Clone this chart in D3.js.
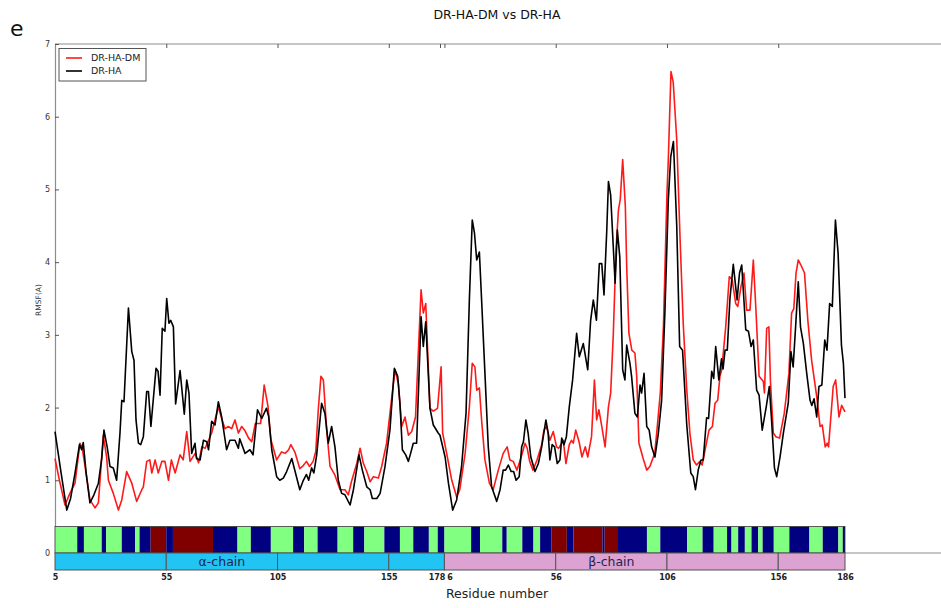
<!DOCTYPE html>
<html>
<head>
<meta charset="utf-8">
<script src="https://cdn.jsdelivr.net/npm/d3@7"></script>
<style>
  html, body { margin: 0; padding: 0; background: #fff; }
  svg { display: block; }
  text { font-family: "DejaVu Sans", sans-serif; }
</style>
</head>
<body>
<svg id="chart" width="941" height="608"></svg>
<script>
// ---------------- DATA ----------------
// position = sequential residue index along alpha (5..178) then beta (6..186) chains
const tickPos    = [0, 50, 100, 150, 173, 175, 225, 275, 325, 355];
const tickLabels = ["5", "55", "105", "155", "178", "6", "56", "106", "156", "186"];
const yTicks     = [0, 1, 2, 3, 4, 5, 6, 7];

const seriesNames  = ["DR-HA-DM", "DR-HA"];
const seriesColors = ["#ff1a1a", "#000000"];

// DR-HA-DM RMSF [position, value]
const rmsfDM = [
  [0,1.3],[2,1.0],[4.5,0.66],[6.7,0.82],[9,0.96],[11.2,1.51],[12.2,1.45],[13.5,1.19],[15.7,0.73],[18,0.62],
  [19.5,0.69],[21.7,1.62],[23.2,1.32],[24,1.0],[26.2,0.82],[28.5,0.59],[30,0.73],[32.2,1.12],[34.5,0.96],[36.7,0.71],
  [39,0.87],[39.7,0.91],[41.2,1.26],[42.6,1.28],[43.5,1.1],[45,1.28],[46.4,1.1],[48,1.26],[49.4,1.26],[51,1.0],
  [52.3,1.28],[54,1.1],[56.2,1.35],[57.6,1.28],[59.2,1.67],[60.7,1.26],[63,1.37],[64.5,1.24],[66,1.46],[67.5,1.44],
  [69,1.55],[70.4,1.65],[71.9,1.83],[73.4,2.01],[74.9,1.85],[76.4,1.71],[77.9,1.74],[79.4,1.71],[80.9,1.83],[82.4,1.65],
  [83.9,1.74],[85.4,1.68],[87,1.58],[88.4,1.53],[90,1.78],[92.4,1.78],[94,2.31],[95.7,2.02],[97,1.56],[99.6,1.28],
  [101.8,1.39],[103.4,1.37],[105,1.42],[106,1.49],[107.9,1.38],[110,1.16],[111.2,1.19],[113,1.26],[114.4,1.19],[116,1.26],
  [117.2,1.4],[118.3,1.97],[119.5,2.43],[120.6,2.38],[122.1,1.69],[123.6,1.19],[125.8,1.07],[128.1,0.87],[130.3,0.87],[131.8,0.8],
  [133.2,0.98],[135.6,1.23],[137.1,1.44],[138.6,1.23],[140.1,1.12],[141.6,0.98],[143.1,1.05],[145.3,1.03],[146.8,1.19],[149,1.51],
  [151.3,2.13],[152.8,2.52],[154.3,2.33],[155.8,1.74],[157.3,1.87],[158.8,1.62],[160.3,1.67],[162,1.87],[164.5,3.62],[165.5,3.3],
  [166.6,3.43],[168.5,1.99],[170,1.95],[171.9,1.99],[173.5,2.56],[174.2,1.65],[176,1.37],[178.3,1.0],[180.5,0.77],[181.9,0.87],
  [184.3,1.37],[186.2,2.01],[187.5,2.61],[188.7,2.56],[189.5,2.24],[190.7,2.27],[191.7,1.83],[193.2,1.28],[195.2,0.96],[196.9,0.87],
  [199.2,1.14],[201.4,1.37],[203.2,1.46],[204.4,1.28],[205.9,1.26],[207.6,1.14],[209.5,1.32],[211.2,1.51],[212.2,1.44],[213.3,1.26],
  [214.8,1.14],[216.6,1.28],[218.7,1.49],[219.7,1.69],[220.9,1.74],[222.4,1.55],[223.9,1.67],[225.4,1.46],[226.3,1.44],[228.4,1.55],
  [229.6,1.23],[231.1,1.49],[232.1,1.55],[232.9,1.51],[234,1.69],[235.5,1.53],[236.8,1.32],[238.3,1.46],[239.4,1.32],[241.1,1.6],
  [242.4,2.38],[243.4,1.83],[244.4,1.97],[245.7,1.74],[247.2,1.46],[248.7,2.01],[249.7,2.2],[250.9,3.02],[252.1,4.17],[253.2,4.72],
  [254,4.86],[255.1,5.41],[256.3,4.76],[256.9,3.94],[257.9,3.02],[259.2,2.79],[260.6,2.75],[261.4,2.43],[262.4,1.51],[264.3,1.3],
  [265.9,1.14],[267.3,1.19],[269.5,1.37],[270.5,1.69],[272,2.2],[273.4,3.11],[275,4.95],[275.6,5.41],[276.8,6.62],[277.8,6.48],
  [279.4,5.68],[280.9,4.31],[282.3,3.16],[283.9,2.24],[285.3,1.65],[286.8,1.28],[288.3,1.21],[289.8,1.26],[290.8,1.21],[292.4,1.46],
  [293.9,1.69],[295.4,1.74],[296.6,2.06],[297.8,2.1],[298.8,2.43],[299.6,2.52],[301.4,3.11],[303,3.8],[304.3,3.76],[305.9,3.43],
  [306.8,3.39],[308.3,3.67],[309.6,3.85],[310.8,3.34],[312.3,3.34],[313.8,4.03],[314.9,3.39],[316.4,2.43],[318.3,2.36],[318.8,2.2],
  [319.8,3.09],[320.8,3.11],[321.5,2.36],[322.8,1.65],[323.9,1.6],[325.6,1.58],[327.7,1.92],[329.8,2.47],[331,3.3],[332,3.36],
  [333,3.85],[334,4.03],[335.5,3.94],[336.8,3.85],[338.3,3.2],[340,2.65],[342.3,2.15],[343.8,1.74],[344.8,1.76],[346.1,1.46],
  [347,1.51],[347.6,1.46],[349.7,2.29],[350.8,2.38],[352.3,1.87],[353.5,2.03],[355,1.94]
];

// DR-HA RMSF [position, value]
const rmsfHA = [
  [0,1.67],[2.5,1.15],[5.3,0.59],[7,0.75],[9,1.1],[11,1.49],[12,1.42],[12.7,1.52],[14,1.1],[15.7,0.69],
  [17.5,0.8],[19.5,0.96],[21,1.3],[22,1.69],[23.5,1.45],[24.7,1.19],[26.2,1.17],[27.7,1.0],[29.2,1.65],[30,2.1],
  [31,2.08],[33,3.37],[34.5,2.77],[35.5,2.65],[36.4,1.83],[37.5,1.51],[38.5,1.49],[39.7,1.6],[41.2,2.22],[42,2.22],
  [43.1,1.74],[45.4,2.54],[46.3,2.5],[47.2,2.17],[48.2,3.09],[49.4,3.05],[50.2,3.5],[51.2,3.16],[52,3.2],[53.2,3.11],
  [54.2,2.05],[56.2,2.51],[58.1,1.91],[59.2,2.38],[60.2,2.2],[61.4,1.37],[62.9,1.51],[63.6,1.3],[65.2,1.28],[66.7,1.55],
  [68.2,1.53],[69,1.42],[70.4,1.81],[71.9,1.76],[73.4,2.08],[74.9,1.87],[77.1,1.42],[78.6,1.55],[80.9,1.55],[82.4,1.44],
  [83,1.57],[85.4,1.37],[87.6,1.42],[89,1.35],[91,1.97],[92.9,1.85],[95,1.99],[96,1.88],[97.4,1.42],[99.6,1.05],
  [101,1.0],[102.6,1.03],[104.1,1.12],[106.4,1.3],[107.9,1.12],[110,0.87],[111.6,1.0],[113,1.08],[114,1.0],[115.3,1.17],
  [116.3,1.1],[117.6,1.35],[119.8,2.06],[121.3,1.92],[122.8,1.51],[124.3,1.74],[125.8,1.46],[127.3,1.0],[128.8,0.82],[130.3,0.8],
  [132.6,0.66],[134.1,0.87],[136.6,1.35],[138.1,1.14],[140.1,0.91],[141.6,0.87],[142.6,0.75],[144.6,0.75],[146.1,0.82],[148.3,1.19],
  [150.5,1.69],[152.5,2.54],[154,2.43],[155,2.06],[156.1,1.42],[157.6,1.35],[158.8,1.26],[159.8,1.37],[161,1.51],[162.5,1.51],
  [164.5,3.25],[165.5,2.84],[166.6,3.18],[168.5,1.99],[170,1.76],[172.2,1.65],[173,1.62],[175.3,1.32],[176.8,0.96],[178.7,0.59],
  [180.5,0.73],[182.7,1.19],[184.7,1.92],[186.2,3.48],[187.5,4.58],[188.5,4.4],[189.5,4.03],[190.7,4.14],[191.7,3.48],[193.2,2.47],
  [194.7,1.46],[196.2,0.91],[198.5,0.71],[200,0.87],[201.4,1.14],[202.5,1.14],[203.7,1.21],[205,1.12],[206.1,1.12],[207.2,1.0],
  [208.6,1.05],[209.7,1.46],[210.5,1.53],[211.6,1.83],[212.6,1.65],[213.8,1.32],[215.7,1.12],[217.2,1.23],[218.7,1.46],[220.6,1.83],
  [221.6,1.65],[222.4,1.28],[223.4,1.49],[224.5,1.46],[225.7,1.23],[226.9,1.28],[227.7,1.58],[228.7,1.49],[229.8,1.6],[231.1,2.01],
  [232.6,2.38],[234.4,3.02],[235.6,2.7],[237.4,2.88],[239.4,2.52],[240.7,3.2],[241.9,3.48],[243.3,3.2],[244.6,3.98],[245.7,3.98],
  [246.7,3.55],[247.9,4.4],[248.7,5.11],[249.7,4.92],[251.7,3.71],[252.7,4.44],[253.8,4.07],[255.1,2.52],[256.1,2.38],[256.9,2.86],
  [258.4,2.6],[259.1,2.43],[260.6,1.92],[261.7,1.87],[262.9,2.31],[263.6,2.2],[264.7,2.47],[265.9,1.74],[267,1.69],[268.1,1.46],
  [269.6,1.32],[271.1,1.64],[272.6,2.1],[274.1,3.34],[275.6,4.86],[276.7,5.45],[277.9,5.66],[279.4,4.49],[280.7,2.84],[282,2.79],
  [283.9,1.76],[285.7,1.1],[286.8,1.05],[287.8,0.87],[289.1,1.15],[290.3,1.28],[291.3,1.28],[292.8,1.86],[293.7,1.85],[295.1,2.5],
  [296,2.4],[296.9,2.84],[298.3,2.38],[299.5,2.67],[300.2,2.53],[301.1,2.79],[302.1,2.79],[303.3,3.5],[304.8,3.97],[306.5,3.48],
  [307.6,3.85],[308.6,3.96],[310.4,3.07],[311.6,3.05],[312.8,2.84],[313.8,2.93],[315.3,2.24],[316.4,2.17],[317.8,1.69],[319.6,2.01],
  [321,2.29],[322,1.83],[323.3,1.17],[324.3,1.05],[325.8,1.32],[327.3,1.65],[329.5,2.06],[330.7,2.77],[331.7,2.56],[332.8,3.11],
  [334,3.73],[335,3.11],[336.3,2.88],[337.8,2.47],[339.3,2.1],[340.1,2.03],[341.1,2.12],[342.3,1.87],[343.3,2.29],[344.6,2.31],
  [345.9,2.93],[346.9,2.79],[348.1,3.43],[349.3,3.39],[350.7,4.58],[351.9,4.12],[353.4,2.86],[354.3,2.6],[355,2.13]
];

// secondary structure segments: start position and type (G = green, N = navy, R = dark red)
const ssStart = [0,10,13,21,23,30,36,38,43,50,53,71,82,88,97,107,112,118,127,134,139,148,155,161,168,172,
                 175,187,191,201,203,210,215,218,223,230,233,246,247,253,266,272,284,291,296,302,304,307,310,313,316,318,323,330,339,345,352,354];
const ssType  = ["G","N","G","N","G","N","G","N","R","N","R","N","G","N","G","N","G","N","G","N","G","N","G","N","G","N",
                 "G","N","G","N","G","N","G","N","R","N","R","N","R","N","G","N","G","N","G","N","G","N","G","N","G","N","G","N","G","N","G","N"];
const ssEnd = 355;
const ssColors = { G: "#80ff80", N: "#000080", R: "#800000" };

// chain segments
const chainSegStart = [0, 50, 100, 150, 175, 225, 275, 325];
const chainSegEnd   = [50, 100, 150, 175, 225, 275, 325, 355];
const chainSegName  = ["alpha","alpha","alpha","alpha","beta","beta","beta","beta"];
const chainColors   = { alpha: "#21c4f2", beta: "#dca2d2" };
const chainLabels   = ["α-chain", "β-chain"];
const chainLabelPos = [75, 250];

// ---------------- DRAW ----------------
(function draw() {
  const svg = d3.select("#chart");
  const pL = 55, pR = 845, pT = 44, pB = 553;

  const x = d3.scaleLinear().domain([0, 355]).range([pL, pR]);
  const y = d3.scaleLinear().domain([0, 7]).range([pB, pT]);

  // title & panel letter
  svg.append("text").attr("x", 497).attr("y", 19).attr("text-anchor", "middle")
    .attr("font-size", 12.5).attr("fill", "#111").text("DR-HA-DM vs DR-HA");
  svg.append("text").attr("x", 10).attr("y", 36)
    .attr("font-family", "Liberation Sans, Arial, sans-serif")
    .attr("font-size", 22).attr("fill", "#111").text("e");

  // spines (frame extends beyond the right edge)
  const spineColor = "#8c8c8c";
  svg.append("line").attr("x1", pL).attr("x2", 960).attr("y1", pT).attr("y2", pT)
    .attr("stroke", spineColor).attr("stroke-width", 1.2);
  svg.append("line").attr("x1", pL).attr("x2", 960).attr("y1", pB).attr("y2", pB)
    .attr("stroke", spineColor).attr("stroke-width", 1.2);

  // y axis
  const yAxis = svg.append("g").attr("transform", `translate(${pL},0)`)
    .call(d3.axisLeft(y).tickValues(yTicks).tickSize(-4).tickPadding(5).tickFormat(d3.format("d")));
  yAxis.select(".domain").attr("stroke", spineColor).attr("stroke-width", 1.2);
  yAxis.selectAll(".tick line").attr("stroke", "#555");
  yAxis.selectAll(".tick text").attr("font-size", 8).attr("fill", "#333")
    .attr("font-family", "DejaVu Sans, sans-serif");

  // top ticks (inward)
  const topAxis = svg.append("g").attr("transform", `translate(0,${pT})`)
    .call(d3.axisTop(x).tickValues(tickPos.filter((d, i) => i > 0 && i < 9)).tickSize(-4).tickFormat(""));
  topAxis.select(".domain").remove();
  topAxis.selectAll(".tick line").attr("stroke", "#555");

  // y label
  svg.append("text").attr("transform", "translate(41,300) rotate(-90)")
    .attr("text-anchor", "middle").attr("font-size", 7.5).attr("fill", "#333").text("RMSF(A)");

  // lines
  const line = d3.line().x(d => x(d[0])).y(d => y(d[1]));
  [rmsfDM, rmsfHA].forEach((s, i) => {
    svg.append("path").datum(s).attr("d", line)
      .attr("fill", "none").attr("stroke", seriesColors[i])
      .attr("stroke-width", 1.6).attr("stroke-linejoin", "round");
  });

  // secondary structure bar
  const ssTopY = 526.5, ssBotY = pB;
  const ssSegs = ssStart.map((s, i) => ({ s, e: i < ssStart.length - 1 ? ssStart[i + 1] : ssEnd, t: ssType[i] }));
  svg.append("g").selectAll("rect").data(ssSegs).join("rect")
    .attr("x", d => x(d.s)).attr("width", d => x(d.e) - x(d.s))
    .attr("y", ssTopY).attr("height", ssBotY - ssTopY)
    .attr("fill", d => ssColors[d.t]);
  svg.append("rect").attr("x", x(0)).attr("y", ssTopY).attr("width", x(ssEnd) - x(0))
    .attr("height", ssBotY - ssTopY).attr("fill", "none").attr("stroke", "#3a3a3a").attr("stroke-width", 0.8);

  // chain bar
  const chTop = pB, chBot = 570;
  const chSegs = chainSegStart.map((s, i) => ({ s, e: chainSegEnd[i], c: chainSegName[i] }));
  svg.append("g").selectAll("rect").data(chSegs).join("rect")
    .attr("x", d => x(d.s)).attr("width", d => x(d.e) - x(d.s))
    .attr("y", chTop).attr("height", chBot - chTop)
    .attr("fill", d => chainColors[d.c]).attr("stroke", "#555").attr("stroke-width", 1);
  chainLabels.forEach((t, i) => {
    svg.append("text").attr("x", x(chainLabelPos[i])).attr("y", 566)
      .attr("text-anchor", "middle").attr("font-size", 12.5).attr("fill", "#1c2550").text(t);
  });

  // x tick labels
  const xAxis = svg.append("g").attr("transform", `translate(0,${chBot})`)
    .call(d3.axisBottom(x).tickValues(tickPos).tickSize(0).tickPadding(4).tickFormat((d, i) => tickLabels[i]));
  xAxis.select(".domain").remove();
  xAxis.selectAll(".tick text").attr("font-size", 8).attr("fill", "#222")
    .attr("font-weight", "bold").attr("font-family", "DejaVu Sans, sans-serif")
    .attr("dx", (d, i) => (i === 4 ? -3.5 : i === 5 ? 5 : 0));

  svg.append("text").attr("x", 497).attr("y", 598).attr("text-anchor", "middle")
    .attr("font-size", 12.5).attr("fill", "#222").text("Residue number");

  // legend
  const lg = svg.append("g");
  lg.append("rect").attr("x", 59).attr("y", 48.5).attr("width", 87).attr("height", 32.5)
    .attr("fill", "#fff").attr("stroke", "#555").attr("stroke-width", 1);
  seriesNames.forEach((n, i) => {
    const yy = 58 + i * 13;
    lg.append("line").attr("x1", 66).attr("x2", 82).attr("y1", yy).attr("y2", yy)
      .attr("stroke", seriesColors[i]).attr("stroke-width", 1.6);
    lg.append("text").attr("x", 91).attr("y", yy + 3.3).attr("font-size", 9.5).attr("fill", "#222").text(n);
  });
})();
</script>
</body>
</html>
